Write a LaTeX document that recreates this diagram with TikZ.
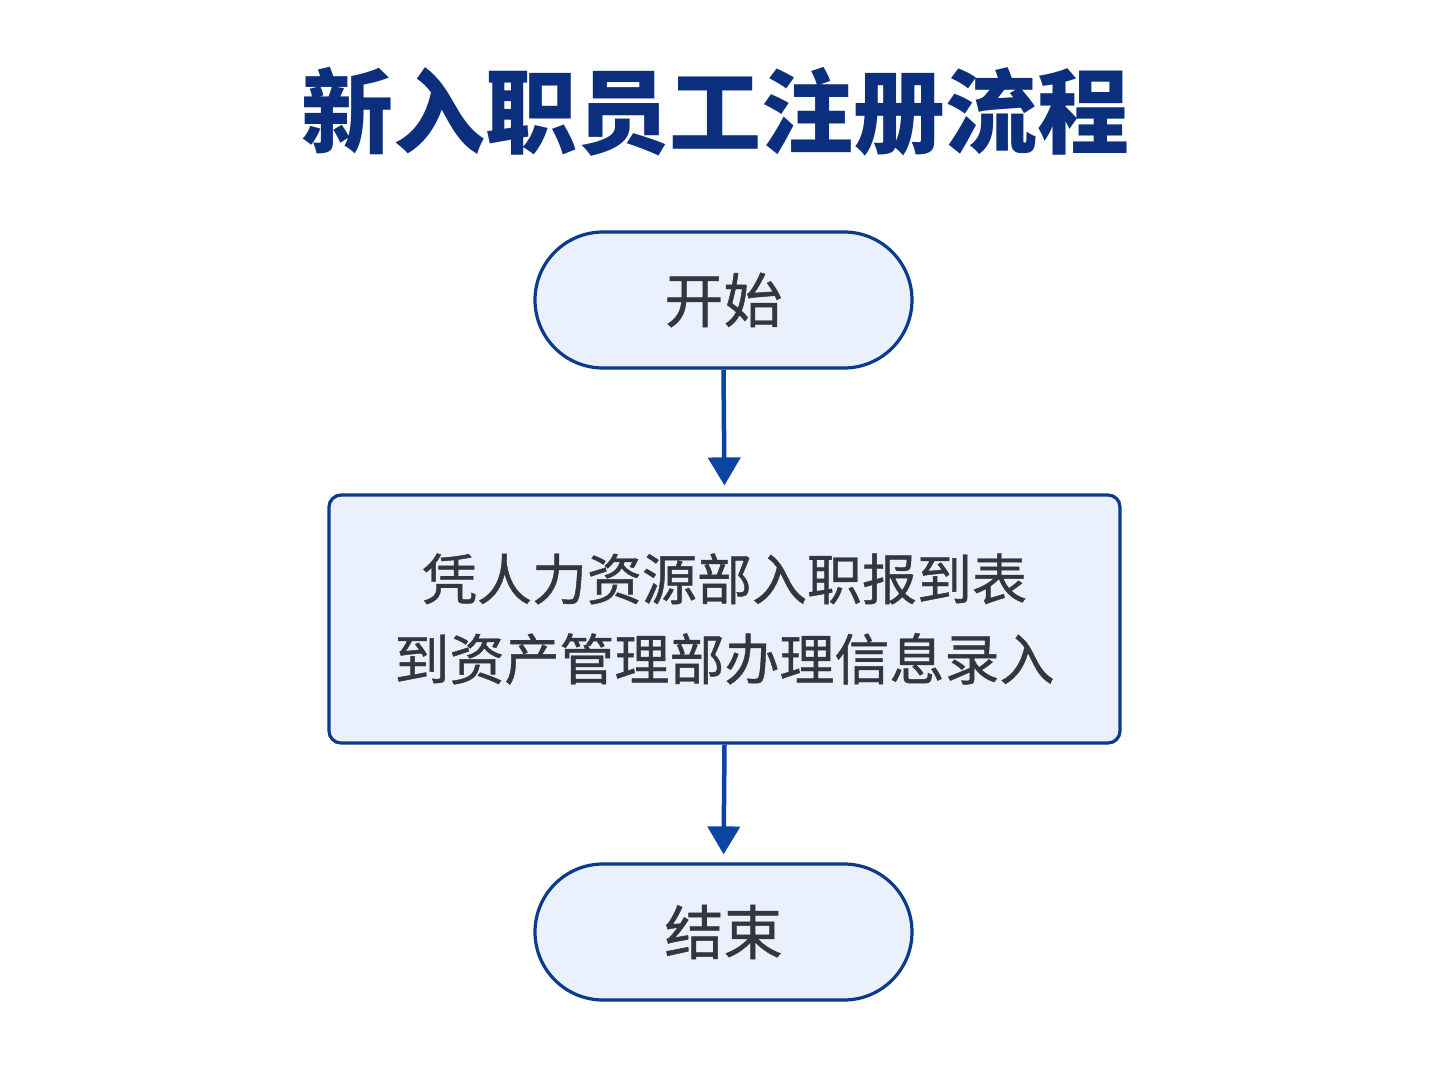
\documentclass[tikz,border=0pt]{standalone}
\usepackage{fontspec}
\newfontfamily\cjk{Noto Sans CJK SC}
\newfontfamily\cjkmed[FakeBold=0.8]{Noto Sans CJK SC}
\usetikzlibrary{shapes.misc,arrows.meta}
\definecolor{titleblue}{HTML}{0B2F7D}
\definecolor{edgeblue}{HTML}{0A3A8C}
\definecolor{arrowblue}{HTML}{0B45A3}
\definecolor{boxfill}{HTML}{EAF1FC}
\definecolor{txt}{HTML}{33363F}
\tikzset{
  terminal/.style={rounded rectangle, draw=edgeblue, line width=3.2pt, fill=boxfill,
    minimum width=377pt, minimum height=136pt, inner sep=0pt,
    font=\cjkmed\fontsize{59}{70}\selectfont, text=txt},
  procbox/.style={rectangle, rounded corners=12pt, draw=edgeblue, line width=3.2pt, fill=boxfill,
    minimum width=791pt, minimum height=248pt, inner sep=0pt, align=center,
    font=\cjkmed\fontsize{55}{80}\selectfont, text=txt},
  flow/.style={draw=arrowblue, line width=4.5pt, -{Triangle[length=28pt,width=32pt]}, shorten >=8pt}
}
\begin{document}
\begin{tikzpicture}[x=1pt,y=-1pt]
\useasboundingbox[fill=white] (0,0) rectangle (1448,1086);
\node (title) at (715,112) {\cjk\bfseries\fontsize{92}{100}\selectfont\color{titleblue}新入职员工注册流程};
\node[terminal] (start) at (723.5,300) {开始};
\node[procbox] (proc) at (724.5,619) {凭人力资源部入职报到表\\到资产管理部办理信息录入};
\node[terminal] (end) at (723.5,932) {结束};
\draw[flow] (start.south) -- (proc.north);
\draw[flow] (proc.south) -- (end.north);
\end{tikzpicture}
\end{document}
